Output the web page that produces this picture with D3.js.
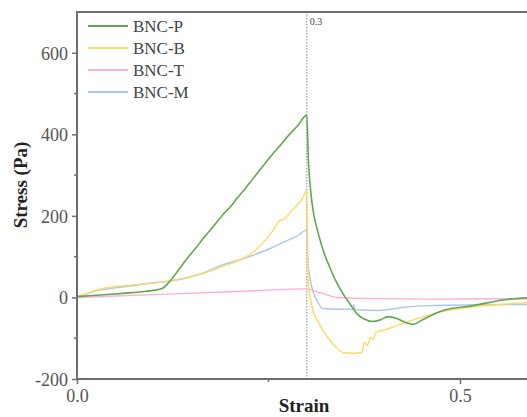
<!DOCTYPE html>
<html><head><meta charset="utf-8">
<script src="https://cdn.jsdelivr.net/npm/d3@7"></script>
<style>body{margin:0;background:#fff}svg{display:block}</style>
</head><body>
<script>
const seriesNames = ["BNC-P","BNC-B","BNC-T","BNC-M"];
const seriesColors = ["#62a84c","#ffd966","#ffb0d6","#aac8ec"];
const bncP = [[0,2],[0.03,6],[0.06,10],[0.09,15],[0.111,22],[0.121,39],[0.132,66],[0.144,96],[0.155,121],[0.165,145],[0.178,174],[0.19,202],[0.2,222],[0.209,243],[0.22,268],[0.23,292],[0.241,318],[0.252,344],[0.264,370],[0.275,395],[0.288,421],[0.3,447],[0.302,340],[0.305,262],[0.309,205],[0.315,157],[0.322,112],[0.33,74],[0.338,40],[0.347,10],[0.356,-15],[0.365,-39],[0.375,-53],[0.386,-59],[0.396,-55],[0.406,-47],[0.418,-52],[0.43,-62],[0.439,-66],[0.448,-58],[0.457,-49],[0.478,-32],[0.517,-20],[0.561,-5],[0.6,0]];
const bncB = [[0,0],[0.01,8],[0.034,22],[0.07,30],[0.108,37],[0.14,48],[0.165,59],[0.187,74],[0.205,86],[0.219,98],[0.232,114],[0.243,135],[0.255,162],[0.265,189],[0.27,192],[0.28,212],[0.295,245],[0.3,262],[0.301,150],[0.302,34],[0.305,-5],[0.308,-32],[0.315,-60],[0.321,-81],[0.33,-105],[0.339,-123],[0.347,-135],[0.36,-137],[0.372,-135],[0.375,-110],[0.379,-118],[0.383,-98],[0.387,-104],[0.39,-86],[0.405,-78],[0.418,-69],[0.444,-52],[0.478,-34],[0.522,-22],[0.6,-12]];
const bncT = [[0,0],[0.1,7],[0.2,14],[0.239,17],[0.3,21],[0.31,16],[0.32,10],[0.34,0],[0.393,-3],[0.46,-4],[0.6,-3]];
const bncM = [[0,2],[0.03,18],[0.07,28],[0.1,36],[0.121,40],[0.165,60],[0.187,78],[0.219,96],[0.252,120],[0.275,140],[0.287,150],[0.3,165],[0.301,100],[0.304,49],[0.309,10],[0.313,-7],[0.321,-27],[0.343,-29],[0.36,-29],[0.361,-18],[0.363,-30],[0.393,-32],[0.427,-24],[0.46,-20],[0.6,-17]];
const xTicks = [0.0, 0.5];
const xMinor = [0.25];
const yTicks = [-200, 0, 200, 400, 600];
const yMinor = [-100, 100, 300, 500];
const markerStrain = 0.3;

const W = 527, H = 417;
const svg = d3.select("body").append("svg").attr("width", W).attr("height", H);
const x = d3.scaleLinear().domain([0, 0.6]).range([77, 536.6]);
const y = d3.scaleLinear().domain([-200, 700]).range([379, 12]);
const font = "Liberation Serif";
const axisColor = "#6e6e6e";

svg.append("clipPath").attr("id","clip").append("rect")
  .attr("x", x(0)).attr("y", y(700)).attr("width", x(0.6)-x(0)).attr("height", y(-200)-y(700));

// dotted marker
svg.append("line").attr("x1", x(markerStrain)).attr("x2", x(markerStrain))
  .attr("y1", y(700)).attr("y2", y(-200))
  .attr("stroke", "#888").attr("stroke-width", 1).attr("stroke-dasharray", "1.5,1.5");
svg.append("text").attr("x", x(markerStrain)+3).attr("y", y(700)+13)
  .attr("font-family", font).attr("font-size", 10).attr("fill", "#444").text(markerStrain.toFixed(1));

const line = d3.line().x(d => x(d[0])).y(d => y(d[1])).curve(d3.curveMonotoneX);
const g = svg.append("g").attr("clip-path","url(#clip)");
const data = [bncT, bncM, bncB, bncP];
const order = [2, 3, 1, 0];
data.forEach((d, i) => {
  const k = order[i];
  g.append("path").datum(d).attr("d", line).attr("fill","none")
    .attr("stroke", seriesColors[k]).attr("stroke-width", k===0 ? 1.6 : 1.4)
    .attr("stroke-linejoin","round");
});

// axes
const yAxis = d3.axisLeft(y).tickValues(yTicks).tickSize(5).tickPadding(4).tickFormat(d => String(d));
const yg = svg.append("g").attr("transform", `translate(${x(0)},0)`).call(yAxis);
const xAxis = d3.axisBottom(x).tickValues(xTicks).tickSize(5).tickPadding(5).tickFormat(d => d.toFixed(1));
const xg = svg.append("g").attr("transform", `translate(0,${y(-200)})`).call(xAxis);
[yg, xg].forEach(a => {
  a.attr("font-family", font).attr("font-size", 18);
  a.select(".domain").remove();
  a.selectAll(".tick line").attr("stroke", axisColor).attr("stroke-width", 1.5);
  a.selectAll(".tick text").style("font-family", font).style("font-size", "18px").attr("fill", "#555");
});
yg.selectAll(".tick text").attr("dy", "0.35em");
yMinor.forEach(v => svg.append("line").attr("x1", x(0)-3).attr("x2", x(0)).attr("y1", y(v)).attr("y2", y(v)).attr("stroke", axisColor).attr("stroke-width", 1.5));
xMinor.forEach(v => svg.append("line").attr("x1", x(v)).attr("x2", x(v)).attr("y1", y(-200)).attr("y2", y(-200)+3).attr("stroke", axisColor).attr("stroke-width", 1.5));

// frame lines
svg.append("line").attr("x1", x(0)).attr("x2", x(0)).attr("y1", y(700)).attr("y2", y(-200)+1).attr("stroke", axisColor).attr("stroke-width", 2);
svg.append("line").attr("x1", x(0)-1).attr("x2", W).attr("y1", y(-200)).attr("y2", y(-200)).attr("stroke", axisColor).attr("stroke-width", 2);
svg.append("line").attr("x1", x(0)-1).attr("x2", W).attr("y1", y(700)).attr("y2", y(700)).attr("stroke", axisColor).attr("stroke-width", 2);

// axis titles
svg.append("text").attr("transform", `translate(27,${185}) rotate(-90)`).attr("text-anchor","middle")
  .style("font-family", font).attr("font-weight","bold").attr("font-size", 19).attr("fill","#222").text("Stress (Pa)");
svg.append("text").attr("x", 304).attr("y", 412).attr("text-anchor","middle")
  .style("font-family", font).attr("font-weight","bold").attr("font-size", 19).attr("fill","#222").text("Strain");

// legend
seriesNames.forEach((n, i) => {
  const ly = 26 + i*22;
  svg.append("line").attr("x1", 88).attr("x2", 128).attr("y1", ly).attr("y2", ly)
    .attr("stroke", seriesColors[i]).attr("stroke-width", i===0 ? 2 : 1.8);
  svg.append("text").attr("x", 133).attr("y", ly).attr("dy","0.35em")
    .style("font-family", font).attr("font-size", 17).attr("fill","#444").text(n);
});
</script>
</body></html>
